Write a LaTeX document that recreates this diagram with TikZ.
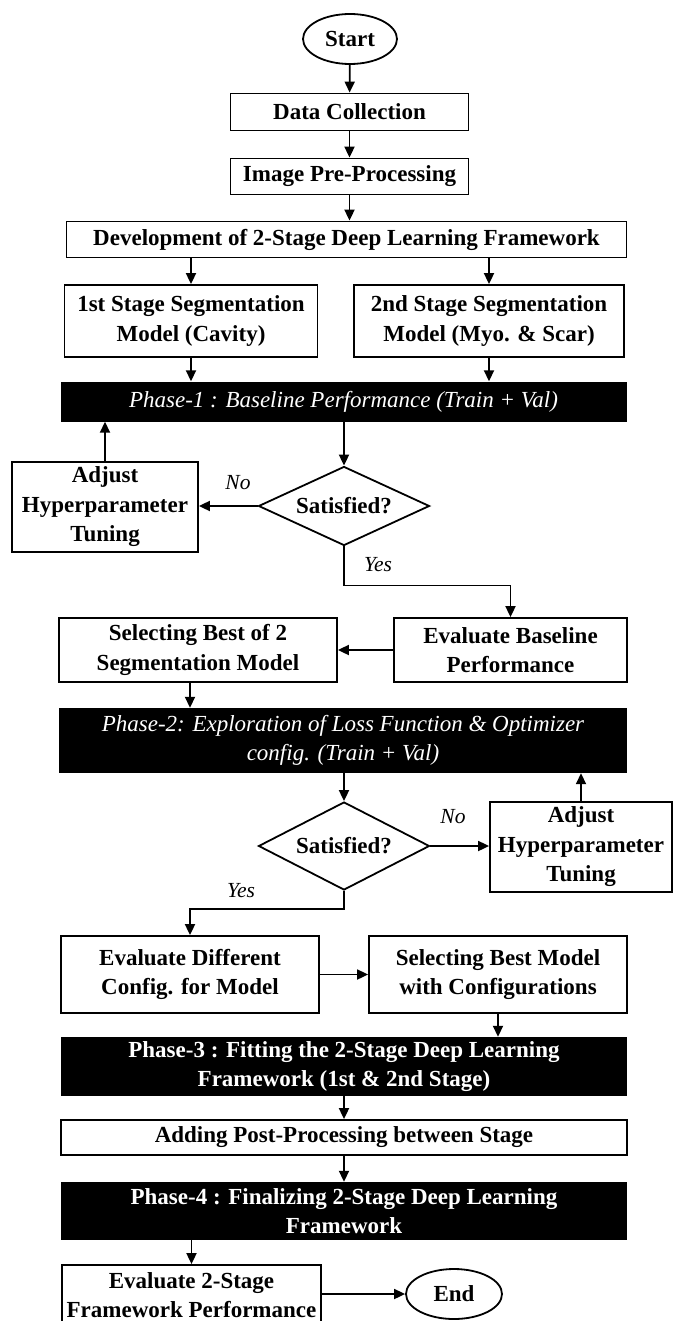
\documentclass[tikz,border=0pt]{standalone}
\usepackage{fontspec}
\setmainfont{Liberation Serif}
\usetikzlibrary{arrows.meta,shapes.geometric}
\begin{document}
\begin{tikzpicture}[x=1pt,y=-1pt,
  box/.style={draw, line width=1.8pt, inner sep=0pt, align=center, font=\bfseries\fontsize{23}{29.5}\selectfont},
  phase/.style={fill=black, text=white, inner sep=0pt, align=center, font=\bfseries\fontsize{23}{29.5}\selectfont},
  phasei/.style={phase, font=\itshape\fontsize{23}{29.5}\selectfont},
  term/.style={box, ellipse},
  decision/.style={box, diamond, aspect=2.2},
  lbl/.style={font=\itshape\fontsize{21.5}{24}\selectfont, inner sep=0pt},
  arr/.style={line width=1.8pt, -{Triangle[length=11pt,width=10pt]}},
]
\path[use as bounding box] (0,0) rectangle (673,1321);
\fill[white] (0,0) rectangle (673,1321);

\node[term, minimum width=94pt, minimum height=50pt] (start) at (350,39) {Start};
\node[box, minimum width=238pt, minimum height=37pt] (dc) at (349.5,112) {Data Collection};
\node[box, minimum width=238pt, minimum height=36pt] (ipp) at (349.5,176.5) {Image Pre-Processing};
\node[box, minimum width=560pt, minimum height=36pt] (dev) at (346.5,239.5) {Development of 2-Stage Deep Learning Framework};
\node[box, minimum width=253pt, minimum height=72pt] (s1) at (191,321) {1st Stage Segmentation\\Model (Cavity)};
\node[box, minimum width=270pt, minimum height=72pt] (s2) at (489,321) {2nd Stage Segmentation\\Model (Myo. \& Scar)};
\node[phasei, minimum width=566pt, minimum height=40pt] (p1) at (343.5,401.5) {Phase-1 : Baseline Performance (Train + Val)};
\node[decision, minimum width=171pt, minimum height=79pt] (d1) at (344,506) {Satisfied?};
\node[box, minimum width=186pt, minimum height=90pt] (a1) at (105,507) {Adjust\\Hyperparameter\\Tuning};
\node[lbl] (no1) at (238,483) {No};
\node[lbl] (yes1) at (378,565) {Yes};
\node[box, minimum width=233pt, minimum height=64pt] (eb) at (510.5,650) {Evaluate Baseline\\Performance};
\node[box, minimum width=278pt, minimum height=64pt] (sb) at (198,650) {Selecting Best of 2\\Segmentation Model};
\node[phasei, minimum width=568pt, minimum height=65pt] (p2) at (343,740.5) {Phase-2: Exploration of Loss Function \& Optimizer\\config. (Train + Val)};
\node[decision, minimum width=171pt, minimum height=88pt] (d2) at (344,846) {Satisfied?};
\node[box, minimum width=182pt, minimum height=90pt] (a2) at (581,847) {Adjust\\Hyperparameter\\Tuning};
\node[lbl] (no2) at (453,817) {No};
\node[lbl] (yes2) at (241,891) {Yes};
\node[box, minimum width=258pt, minimum height=77pt] (ed) at (190,974.5) {Evaluate Different\\Config. for Model};
\node[box, minimum width=258pt, minimum height=77pt] (sm) at (498,974.5) {Selecting Best Model\\with Configurations};
\node[phase, minimum width=566pt, minimum height=59pt] (p3) at (344,1066.5) {Phase-3 : Fitting the 2-Stage Deep Learning\\Framework (1st \& 2nd Stage)};
\node[box, minimum width=566pt, minimum height=35pt] (ad) at (344,1137.5) {Adding Post-Processing between Stage};
\node[phase, minimum width=566pt, minimum height=58pt] (p4) at (344,1211) {Phase-4 : Finalizing 2-Stage Deep Learning\\Framework};
\node[box, minimum width=259pt, minimum height=60pt] (e2) at (191.5,1295) {Evaluate 2-Stage\\Framework Performance};
\node[term, minimum width=96pt, minimum height=50pt] (en) at (454,1294) {End};

\draw[arr] (start) -- (dc);
\draw[arr] (dc) -- (ipp);
\draw[arr] (ipp.south) -- (ipp.south |- dev.north);
\draw[arr] (dev.south -| s1.north) -- (s1.north);
\draw[arr] (dev.south -| s2.north) -- (s2.north);
\draw[arr] (s1.south) -- (s1.south |- p1.north);
\draw[arr] (s2.south) -- (s2.south |- p1.north);
\draw[arr] (p1.south -| d1.north) -- (d1.north);
\draw[arr] (d1.west) -- (a1.east |- d1.west);
\draw[arr] (a1.north) -- (a1.north |- p1.south);
\draw[arr] (d1.south) -- ++(0,39) -| (eb.north);
\draw[arr] (eb.west) -- (sb.east |- eb.west);
\draw[arr] (sb.south -| 190,0) -- (190,0 |- p2.north);
\draw[arr] (p2.south -| d2.north) -- (d2.north);
\draw[arr] (d2.east) -- (a2.west |- d2.east);
\draw[arr] (a2.north) -- (a2.north |- p2.south);
\draw[arr] (d2.south) -- ++(0,18) -| (ed.north);
\draw[arr] (ed.east) -- (sm.west);
\draw[arr] (sm.south) -- (sm.south |- p3.north);
\draw[arr] (p3.south) -- (ad.north);
\draw[arr] (ad.south) -- (p4.north);
\draw[arr] (p4.south -| e2.north) -- (e2.north);
\draw[arr] (e2.east |- en.west) -- (en.west);
\end{tikzpicture}
\end{document}
